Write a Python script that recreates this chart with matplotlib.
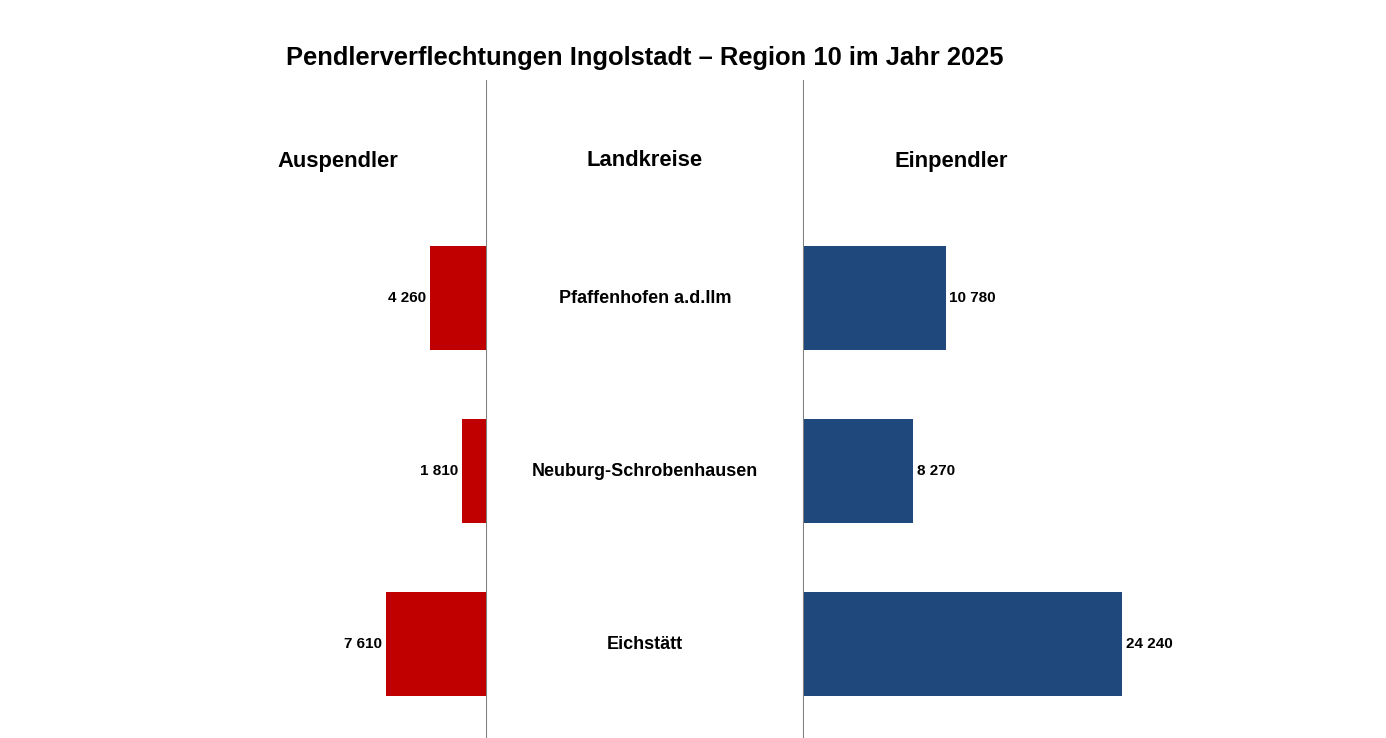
import matplotlib
matplotlib.use("Agg")
import matplotlib.pyplot as plt

kreise = ["Eichstätt", "Neuburg-Schrobenhausen", "Pfaffenhofen a.d.Ilm"]
auspendler = [7610, 1810, 4260]
einpendler = [24240, 8270, 10780]

def fmt(v):
    return f"{v:,}".replace(",", " ")

plt.rcParams['font.family'] = ['Liberation Sans', 'DejaVu Sans']
W, H = 1386, 738
fig = plt.figure(figsize=(W/100, H/100), dpi=100)
scale = 0.01313  # px per unit
top = (H-80)/H
ylim = (-0.543, 3.260)
ys = [0, 1, 2]

axL = fig.add_axes([0, 0, 486/W, top])
axL.set_xlim(486/scale, 0)
axR = fig.add_axes([804/W, 0, (W-804)/W, top])
axR.set_xlim(0, (W-804)/scale)
axM = fig.add_axes([486/W, 0, (804-486)/W, top])
axM.set_xlim(0, 1)
for ax in (axL, axR, axM):
    ax.set_ylim(*ylim)
    ax.set_xticks([]); ax.set_yticks([])
    for s in ax.spines.values():
        s.set_visible(False)
    ax.patch.set_alpha(0)

axL.barh(ys, auspendler, height=0.6, color="#C00000")
axR.barh(ys, einpendler, height=0.6, color="#1F497D")
axM.axvline(0, color="#808080", lw=1.5)
axM.axvline(1, color="#808080", lw=1.5)
for y, a, e, k in zip(ys, auspendler, einpendler, kreise):
    axL.text(a + 300, y, fmt(a), ha="right", va="center", fontsize=11, fontweight="bold")
    axR.text(e + 300, y, fmt(e), ha="left", va="center", fontsize=11, fontweight="bold")
    axM.text(0.5, y, k, ha="center", va="center", fontsize=13, fontweight="bold")

fig.text(645/W, 1-58/H, "Pendlerverflechtungen Ingolstadt – Region 10 im Jahr 2025",
         ha="center", va="center", fontsize=18.4, fontweight="bold")
for x, t in [(338, "Auspendler"), (645, "Landkreise"), (951, "Einpendler")]:
    fig.text(x/W, 1-161/H, t, ha="center", va="center", fontsize=15.8, fontweight="bold")

fig.savefig("out.png", dpi=100)
